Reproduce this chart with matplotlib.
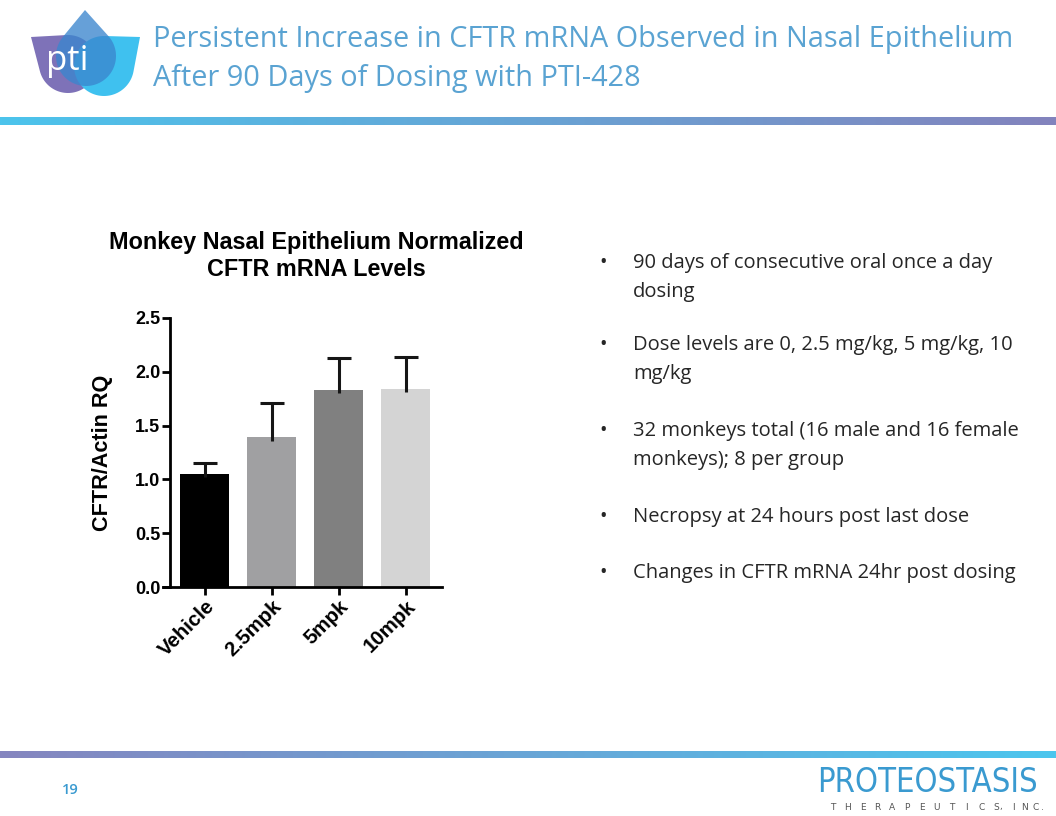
import numpy as np
import matplotlib
matplotlib.use("Agg")
import matplotlib.pyplot as plt
from matplotlib.patches import Polygon

# ---------------- data ----------------
categories = ["Vehicle", "2.5mpk", "5mpk", "10mpk"]
values = [1.05, 1.39, 1.83, 1.84]
errors = [0.10, 0.32, 0.30, 0.30]
bar_colors = ["#000000", "#a0a0a2", "#808080", "#d4d4d4"]
yticks = [0.0, 0.5, 1.0, 1.5, 2.0, 2.5]
ytick_labels = ["0.0", "0.5", "1.0", "1.5", "2.0", "2.5"]

slide_title = "Persistent Increase in CFTR mRNA Observed in Nasal Epithelium\nAfter 90 Days of Dosing with PTI-428"
chart_title = "Monkey Nasal Epithelium Normalized\nCFTR mRNA Levels"
ylabel = "CFTR/Actin RQ"
bullets = [
    "90 days of consecutive oral once a day\ndosing",
    "Dose levels are 0, 2.5 mg/kg, 5 mg/kg, 10\nmg/kg",
    "32 monkeys total (16 male and 16 female\nmonkeys); 8 per group",
    "Necropsy at 24 hours post last dose",
    "Changes in CFTR mRNA 24hr post dosing",
]
bullet_y = [261, 343, 429, 515, 571]
page_number = "19"
company = "PROTEOSTASIS"
company_sub = ["T", "H", "E", "R", "A", "P", "E", "U", "T", "I", "C", "S", ",", "I", "N", "C", "."]

W, H = 1056, 816
fig = plt.figure(figsize=(W / 100, H / 100), dpi=100)

# ---------------- background / decoration ----------------
bg = fig.add_axes([0, 0, 1, 1], zorder=-1)
bg.axis("off")

def hgrad(c1, c2, n=256):
    c1 = np.array(matplotlib.colors.to_rgb(c1))
    c2 = np.array(matplotlib.colors.to_rgb(c2))
    t = np.linspace(0, 1, n)[None, :, None]
    return c1 + (c2 - c1) * t

bg.imshow(hgrad("#4cc4ec", "#8383bd"), extent=[0, W, 125, 117], aspect="auto", interpolation="bilinear")
bg.imshow(hgrad("#8585bf", "#4cc6ee"), extent=[0, W, 758, 751], aspect="auto", interpolation="bilinear")
bg.set_xlim(0, W)
bg.set_ylim(H, 0)

def petal(tip, center, r, color, alpha):
    tx, ty = tip
    cx, cy = center
    d = np.hypot(tx - cx, ty - cy)
    phi = np.arctan2(ty - cy, tx - cx)
    a = np.arccos(r / d)
    ang = np.linspace(phi + a, phi + 2 * np.pi - a, 80)
    pts = [(tx, ty)] + [(cx + r * np.cos(t), cy + r * np.sin(t)) for t in ang]
    bg.add_patch(Polygon(pts, closed=True, facecolor=color, edgecolor="none", alpha=alpha))

petal((31, 37), (68, 64), 29, "#7e72b8", 1.0)
petal((140, 37), (104, 66), 30, "#3fc1ef", 1.0)
petal((85, 10), (86, 56), 30, "#3b86ce", 0.78)
bg.text(67, 61, "pti", color="white", fontsize=25, family="Open Sans",
        ha="center", va="center")

bg.text(153, 59, slide_title, color="#5aa3d2", fontsize=20.8, family="Open Sans",
        ha="left", va="center", linespacing=1.42)

for txt, y in zip(bullets, bullet_y):
    bg.text(599, y - 8, "\u2022", fontsize=14.5, color="#262626", family="Open Sans",
            ha="left", va="top")
    bg.text(633, y - 8, txt, fontsize=14.5, color="#262626", family="Open Sans",
            ha="left", va="top", linespacing=1.57)

bg.text(62, 790, page_number, fontsize=10.5, color="#3a9ad0", family="Open Sans",
        fontweight="semibold", ha="left", va="center")
bg.text(1038, 782, company, fontsize=23.5, color="#3a9ad0", family="DejaVu Sans",
        fontstretch="condensed", ha="right", va="center")
sub_x = list(np.linspace(833, 996, 12)) + [1001] + list(np.linspace(1013, 1036, 3)) + [1042]
for ch, xx in zip(company_sub, sub_x):
    bg.text(xx, 807, ch, fontsize=6.5, color="#555555", family="DejaVu Sans",
            ha="center", va="center")

# ---------------- chart ----------------
ax = fig.add_axes([170 / W, 1 - 587 / H, (442 - 170) / W, (587 - 318) / H])
x = np.arange(len(categories))
tops = np.array(values) + np.array(errors)
ax.bar(x, values, width=0.73, color=bar_colors, zorder=2)
ax.vlines(x, np.array(values) - 0.03, tops, color="#161616", linewidth=2.2, zorder=3)
ax.hlines(tops, x - 0.18, x + 0.18, color="#161616", linewidth=2.2, zorder=3)
ax.set_xlim(-0.52, 3.54)
ax.set_ylim(0, 2.5)
ax.set_yticks(yticks)
ax.set_yticklabels(ytick_labels, fontsize=13, fontweight="bold", family="Liberation Sans")
ax.set_xticks(x)
ax.set_xticklabels(categories, fontsize=14.8, fontweight="bold", family="Liberation Sans",
                   rotation=45, ha="right", rotation_mode="anchor")
ax.set_ylabel(ylabel, fontsize=15.6, fontweight="bold", family="Liberation Sans")
ax.yaxis.set_label_coords(-0.21, 0.498)
for s in ["top", "right"]:
    ax.spines[s].set_visible(False)
for s in ["left", "bottom"]:
    ax.spines[s].set_linewidth(2.0)
ax.tick_params(axis="both", direction="out", length=5.5, width=2.0, pad=1.5)
ax.spines["left"].set_bounds(0, 2.5)
ax.spines["bottom"].set_bounds(-0.62, 3.54)

bg.text(316, 256, chart_title, fontsize=16.8, fontweight="bold", family="Liberation Sans",
        ha="center", va="center", linespacing=1.22)

fig.savefig("out.png", dpi=100)
